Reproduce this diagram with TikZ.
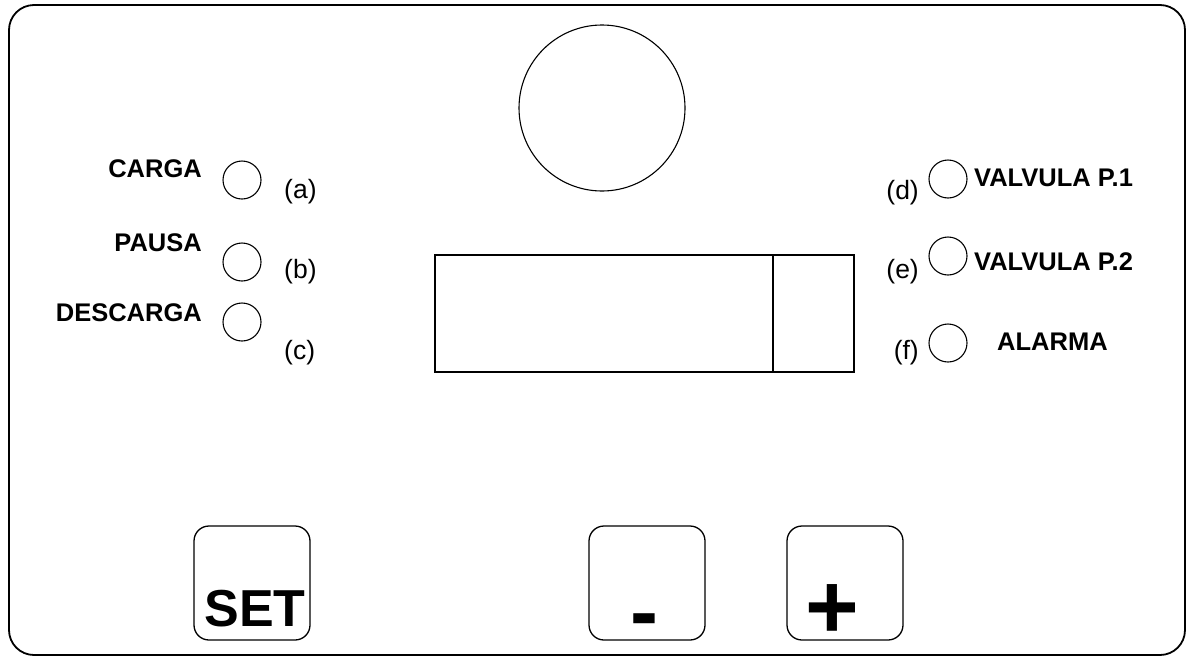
\documentclass[tikz,border=0pt]{standalone}
\usepackage{fontspec}
\setmainfont{Liberation Sans}
\usetikzlibrary{positioning}

\begin{document}
\begin{tikzpicture}[
    x=1pt, y=-1pt,
    led/.style={circle, draw, line width=1.1pt, minimum size=38pt, inner sep=0pt},
    keybox/.style={draw, rounded corners=15pt, line width=1.3pt, minimum width=116pt, minimum height=114pt, inner sep=0pt},
    lbl/.style={inner sep=0pt, font=\bfseries\fontsize{25.5}{25.5}\selectfont},
    tag/.style={inner sep=0pt, font=\fontsize{26.5}{26.5}\selectfont},
    keytext/.style={inner sep=0pt, font=\bfseries\fontsize{52}{52}\selectfont},
    signtext/.style={inner sep=0pt, font=\bfseries\fontsize{#1}{#1}\selectfont}
]
\useasboundingbox (0,0) rectangle (1190,659);

% panel
\draw[line width=1.8pt, rounded corners=25pt] (9,5) rectangle (1185,655);

% knob and display
\node[circle, draw, line width=1.1pt, minimum size=166pt, inner sep=0pt] (knob) at (602,108) {};
\node[draw, line width=1.8pt, minimum width=338pt, minimum height=117pt, inner sep=0pt, anchor=north west] (display) at (434,254) {};
\node[draw, line width=1.8pt, minimum width=81pt, minimum height=117pt, inner sep=0pt, anchor=north west] (digit) at (772,254) {};

% left indicators
\node[led] (ledA) at (242,180) {};
\node[led] (ledB) at (242,262) {};
\node[led] (ledC) at (242,322) {};
\node[lbl, anchor=east] (carga) at (202,169) {CARGA};
\node[lbl, anchor=east] (pausa) at (202,243) {PAUSA};
\node[lbl, anchor=east] (descarga) at (202,313) {DESCARGA};
\node[tag, anchor=west] (tagA) at (284,192) {(a)};
\node[tag, anchor=west] (tagB) at (284,272) {(b)};
\node[tag, anchor=west] (tagC) at (284,353) {(c)};

% right indicators
\node[led] (ledD) at (948,179) {};
\node[led] (ledE) at (948,256) {};
\node[led] (ledF) at (948,343) {};
\node[tag, anchor=east] (tagD) at (919,193) {(d)};
\node[tag, anchor=east] (tagE) at (919,272) {(e)};
\node[tag, anchor=east] (tagF) at (919,353) {(f)};
\node[lbl, anchor=west] (valv1) at (974,178) {VALVULA P.1};
\node[lbl, anchor=west] (valv2) at (974,262) {VALVULA P.2};
\node[lbl, anchor=west] (alarma) at (997,342) {ALARMA};

% keys
\node[keybox] (set) at (252,583) {};
\node[keybox] (minus) at (647,583) {};
\node[keybox] (plus) at (845,583) {};
\node[keytext] (settext) at (255,609) {SET};
\node[signtext=84, anchor=base] (minustext) at (644,640) {-};
\node[signtext=92] (plustext) at (832,612) {+};

\end{tikzpicture}
\end{document}
